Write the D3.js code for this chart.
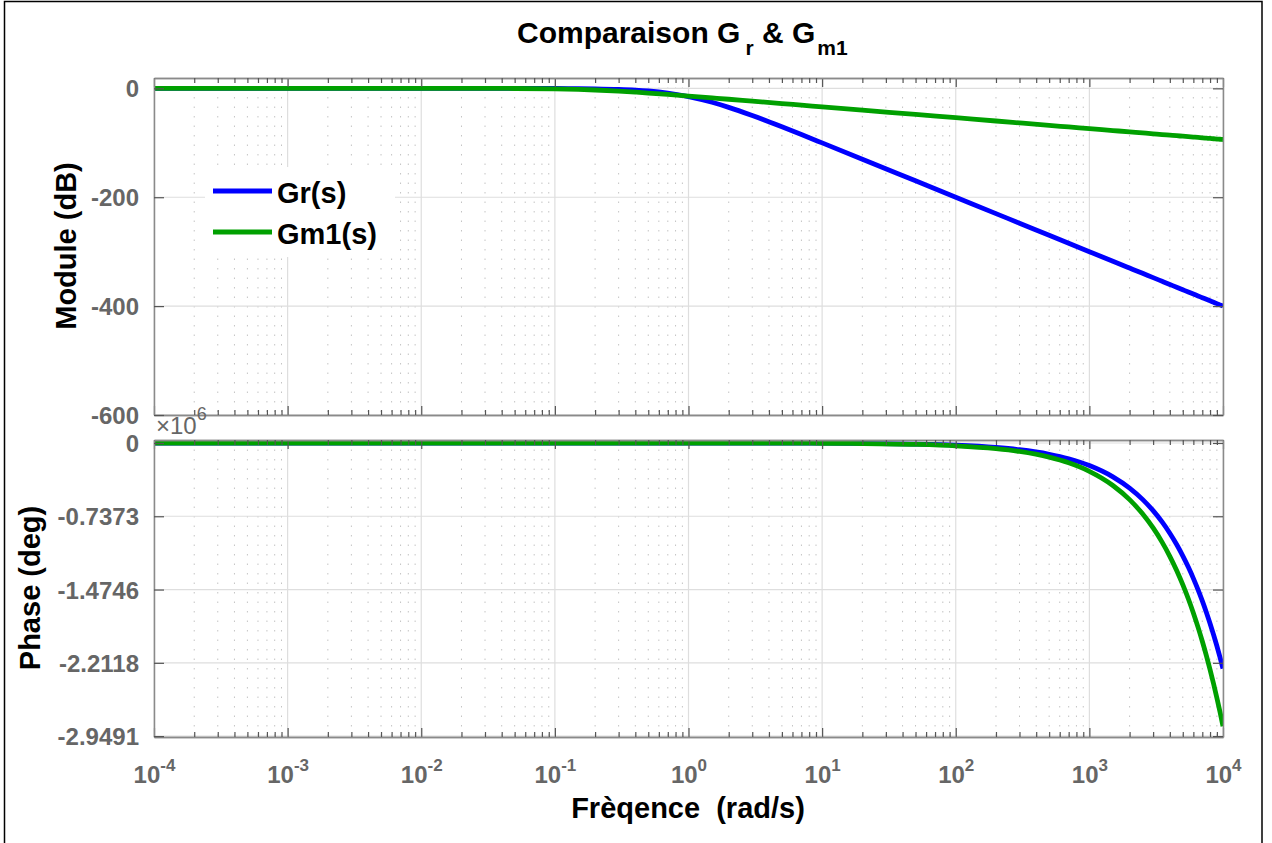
<!DOCTYPE html>
<html><head><meta charset="utf-8">
<script src="https://cdn.jsdelivr.net/npm/d3@7"></script>
<style>body{margin:0;background:#fff} svg{display:block}</style>
</head><body><svg id="c" width="1272" height="843"></svg>
<script>
// ---------- data ----------
const freq = [1e-4, 1e-3, 1e-2, 0.03, 0.05, 0.1, 0.15, 0.2, 0.3, 0.4, 0.5, 0.7, 1, 1.5, 2, 3, 5, 7, 10, 20, 50, 100, 200, 300, 500, 700, 1000, 1500, 2000, 2500, 3000, 3500, 4000, 4500, 5000, 5500, 6000, 6500, 7000, 7500, 8000, 8500, 9000, 9500, 10000];
const grMagDb = [0, 0, 0, -0.02, -0.05, -0.22, -0.48, -0.85, -1.87, -3.2, -4.85, -8.7, -15.05, -25.6, -34.9, -50, -70.7, -84.9, -100.2, -130.1, -169.9, -200, -230.1, -247.7, -269.9, -284.5, -300, -317.6, -330.1, -339.8, -347.7, -354.4, -360.2, -365.3, -369.9, -374.1, -377.8, -381.3, -384.5, -387.5, -390.3, -392.9, -395.4, -397.7, -400];
const gm1MagDb = [0, 0, -0.01, -0.1, -0.26, -0.97, -1.94, -3.01, -5.12, -7.0, -8.6, -11.2, -14.15, -17.6, -20.04, -23.5, -27.96, -30.9, -33.98, -40.0, -47.96, -53.98, -60.0, -63.5, -67.96, -70.9, -73.98, -77.5, -80.0, -81.9, -83.5, -84.9, -86.0, -87.0, -87.96, -88.8, -89.5, -90.2, -90.9, -91.5, -92.0, -92.6, -93.1, -93.5, -93.98];
// phase in units of 10^6 deg
const grPhaseE6 = [0, 0, 0, 0, 0, 0, 0, 0, 0, 0, 0, -0.0002, -0.0002, -0.0004, -0.0005, -0.0007, -0.0011, -0.0016, -0.0023, -0.0045, -0.0114, -0.0227, -0.0454, -0.0681, -0.1135, -0.1589, -0.227, -0.3405, -0.454, -0.5675, -0.681, -0.7945, -0.908, -1.0215, -1.135, -1.2485, -1.362, -1.4755, -1.589, -1.7025, -1.816, -1.9295, -2.043, -2.1565, -2.27];
const gm1PhaseE6 = [0, 0, 0, 0, 0, 0, 0, 0, -0.0001, -0.0001, -0.0001, -0.0002, -0.0003, -0.0004, -0.0006, -0.0009, -0.0014, -0.002, -0.0029, -0.0057, -0.0143, -0.0285, -0.057, -0.0855, -0.1425, -0.1995, -0.285, -0.4275, -0.57, -0.7125, -0.855, -0.9975, -1.14, -1.2825, -1.425, -1.5675, -1.71, -1.8525, -1.995, -2.1375, -2.28, -2.4225, -2.565, -2.7075, -2.85];
const seriesNames = ["Gr(s)", "Gm1(s)"];
const seriesColors = ["#0000ff", "#00a000"];
const xTickExps = [-4, -3, -2, -1, 0, 1, 2, 3, 4];
const magTicks = [0, -200, -400, -600];
const magTickLabels = ["0", "-200", "-400", "-600"];
const phaseTicks = [0, -0.7373, -1.4746, -2.2118, -2.9491];
const phaseTickLabels = ["0", "-0.7373", "-1.4746", "-2.2118", "-2.9491"];

// ---------- layout ----------
const FONT = "'Liberation Sans', Arial, Helvetica, sans-serif";
const L = 154, R = 1223;
const top1 = 78, bot1 = 415, top2 = 440, bot2 = 737;
const svg = d3.select("#c");
svg.append("rect").attr("x", 4.5).attr("y", 1.5).attr("width", 1257.5).attr("height", 850)
  .attr("fill", "#fff").attr("stroke", "#000").attr("stroke-width", 1.5);

const x = d3.scaleLog().domain([1e-4, 1e4]).range([L, R]);
const yMag = d3.scaleLinear().domain([-600, 19]).range([bot1, top1]);
const yPh = d3.scaleLinear().domain([-2.958, 0.03]).range([bot2, top2]);

const majorX = xTickExps.map(e => Math.pow(10, e));
const minorX = [];
for (let e = -4; e < 4; e++) for (let k = 2; k <= 9; k++) minorX.push(k * Math.pow(10, e));

function panel(id, y, ticks, labels, vals, top, bot) {
  const g = svg.append("g");
  g.append("defs").append("clipPath").attr("id", id)
    .append("rect").attr("x", L).attr("y", top).attr("width", R - L).attr("height", bot - top);
  // minor grid (dotted)
  g.append("g").selectAll("line").data(minorX).join("line")
    .attr("x1", d => x(d)).attr("x2", d => x(d)).attr("y1", top).attr("y2", bot)
    .attr("stroke", "#c4c4c4").attr("stroke-width", 1).attr("stroke-dasharray", "1.5,8");
  // major grid
  g.append("g").selectAll("line").data(majorX).join("line")
    .attr("x1", d => x(d)).attr("x2", d => x(d)).attr("y1", top).attr("y2", bot)
    .attr("stroke", "#dedede").attr("stroke-width", 1.2);
  g.append("g").selectAll("line").data(ticks).join("line")
    .attr("x1", L).attr("x2", R).attr("y1", d => y(d)).attr("y2", d => y(d))
    .attr("stroke", "#dedede").attr("stroke-width", 1.2);
  // curves
  const line = d3.line().x(d => x(d[0])).y(d => y(d[1])).curve(d3.curveMonotoneX);
  vals.forEach((v, i) => {
    g.append("path").attr("clip-path", `url(#${id})`)
      .datum(freq.map((f, j) => [f, v[j]]))
      .attr("d", line).attr("fill", "none").attr("stroke", seriesColors[i])
      .attr("stroke-width", 4.8).attr("stroke-linejoin", "round");
  });
  // axes (inward ticks)
  const styleAxis = a => {
    a.select(".domain").attr("stroke", "#8a8a8a").attr("stroke-width", 1.5);
    a.selectAll(".tick line").attr("stroke", "#555").attr("stroke-width", 1.2);
  };
  const mk = (axisFn, pos, tr, size, vals2) => {
    const a = g.append("g").attr("transform", tr)
      .call(axisFn(pos).tickValues(vals2).tickSizeInner(size).tickSizeOuter(0).tickFormat(""));
    styleAxis(a);
    return a;
  };
  mk(d3.axisTop, x, `translate(0,${top})`, -9, majorX);
  mk(d3.axisTop, x, `translate(0,${top})`, -5, minorX);
  const xb = mk(d3.axisBottom, x, `translate(0,${bot})`, -9, majorX);
  mk(d3.axisBottom, x, `translate(0,${bot})`, -5, minorX);
  mk(d3.axisRight, y, `translate(${R},0)`, -10, ticks);
  const yl = g.append("g").attr("transform", `translate(${L},0)`)
    .call(d3.axisLeft(y).tickValues(ticks).tickSizeInner(-10).tickSizeOuter(0).tickPadding(15)
      .tickFormat((d, i) => labels[i]));
  styleAxis(yl);
  yl.selectAll("text").attr("font-family", FONT).attr("font-weight", "bold")
    .attr("font-size", 24).attr("fill", "#666").attr("dy", "0.36em");
  return xb;
}

panel("clipMag", yMag, magTicks, magTickLabels, [grMagDb, gm1MagDb], top1, bot1);
const xb = panel("clipPh", yPh, phaseTicks, phaseTickLabels, [grPhaseE6, gm1PhaseE6], top2, bot2);

// x tick labels 10^n
xb.selectAll(".tick").each(function (d, i) {
  const t = d3.select(this).append("text").attr("y", 46).attr("dy", 0)
    .attr("text-anchor", "middle").attr("font-family", FONT).attr("font-weight", "bold")
    .attr("fill", "#666").attr("font-size", 24);
  t.append("tspan").text("10");
  t.append("tspan").attr("dy", -12).attr("font-size", 17).text(xTickExps[i]);
});

// exponent marker for phase axis
const ex = svg.append("text").attr("x", 156).attr("y", 434).attr("font-family", FONT)
  .attr("fill", "#666").attr("font-size", 24);
ex.append("tspan").text("×10");
ex.append("tspan").attr("dy", -14).attr("font-size", 18).text("6");

// title
const tt = svg.append("text").attr("x", 517).attr("y", 43).attr("font-family", FONT)
  .attr("font-weight", "bold").attr("font-size", 30).attr("fill", "#000");
tt.append("tspan").text("Comparaison G");
tt.append("tspan").attr("dx", 5).attr("dy", 12).attr("font-size", 21).text("r");
tt.append("tspan").attr("dy", -12).text(" & G");
tt.append("tspan").attr("dx", 2).attr("dy", 12).attr("font-size", 21).text("m1");

// axis labels
svg.append("text").attr("transform", "translate(76,246) rotate(-90)").attr("text-anchor", "middle")
  .attr("font-family", FONT).attr("font-weight", "bold").attr("font-size", 29).text("Module (dB)");
svg.append("text").attr("transform", "translate(40,588) rotate(-90)").attr("text-anchor", "middle")
  .attr("font-family", FONT).attr("font-weight", "bold").attr("font-size", 29).text("Phase (deg)");
svg.append("text").attr("x", 688).attr("y", 818).attr("text-anchor", "middle")
  .attr("font-family", FONT).attr("font-weight", "bold").attr("font-size", 29)
  .attr("xml:space", "preserve").style("white-space", "pre").text("Frèqence  (rad/s)");

// legend
const lg = svg.append("g");
lg.append("rect").attr("x", 205).attr("y", 167).attr("width", 190).attr("height", 90).attr("fill", "#fff");
seriesNames.forEach((n, i) => {
  const yy = 191 + i * 41;
  lg.append("line").attr("x1", 213).attr("x2", 272).attr("y1", yy).attr("y2", yy)
    .attr("stroke", seriesColors[i]).attr("stroke-width", 5);
  lg.append("text").attr("x", 277).attr("y", yy + 12).attr("font-family", FONT)
    .attr("font-weight", "bold").attr("font-size", 29).attr("fill", "#000").text(n);
});
</script></body></html>
